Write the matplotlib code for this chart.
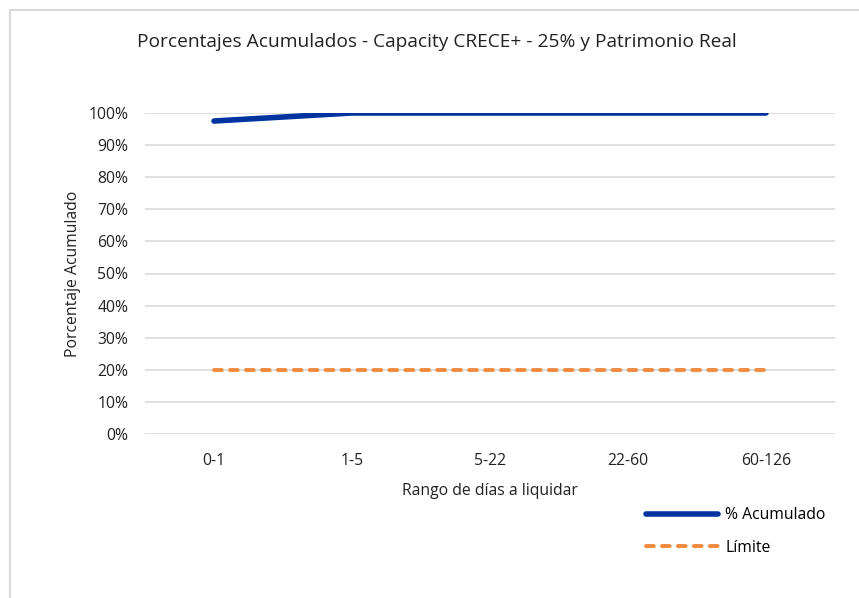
import matplotlib.pyplot as plt
from matplotlib.patches import Rectangle
from matplotlib.ticker import PercentFormatter, MultipleLocator

# Data
rangos = ["0-1", "1-5", "5-22", "22-60", "60-126"]
acumulado = [0.975, 1.0, 1.0, 1.0, 1.0]
limite = [0.20, 0.20, 0.20, 0.20, 0.20]

plt.rcParams['font.family'] = ['Open Sans', 'DejaVu Sans']

fig = plt.figure(figsize=(8.59, 5.98), dpi=100)
ax = fig.add_axes([145/859, 1 - 434/598, 690/859, (434 - 113)/598])

x = range(len(rangos))
l1, = ax.plot(x, acumulado, color='#0033A0', linewidth=4.0, solid_capstyle='round',
              label='% Acumulado')
l2, = ax.plot(x, limite, color='#F08A3E', linewidth=2.8, linestyle=(0, (2.0, 2.1)),
              dash_capstyle='round', label='Límite')

ax.set_xlim(-0.5, len(rangos) - 0.5)
ax.set_ylim(0, 1)
ax.yaxis.set_major_locator(MultipleLocator(0.1))
ax.yaxis.set_major_formatter(PercentFormatter(1.0, decimals=0))
ax.set_xticks(list(x))
ax.set_xticklabels(rangos)
ax.tick_params(length=0, labelsize=11.3, colors='#222222', pad=12)
ax.tick_params(axis='x', pad=14)
ax.grid(axis='y', color='#D9D9D9', linewidth=1.2)
ax.set_axisbelow(True)
for s in ax.spines.values():
    s.set_visible(False)

ax.set_xlabel("Rango de días a liquidar", fontsize=11.3, color='#222222', labelpad=10)
ax.set_ylabel("Porcentaje Acumulado", fontsize=11.3, color='#222222', labelpad=5)

fig.text(437/859, 1 - 42/598, "Porcentajes Acumulados - Capacity CRECE+ - 25% y Patrimonio Real",
         ha='center', va='center', fontsize=13.8, color='#222222')

fig.legend(handles=[l1, l2], loc='upper left', bbox_to_anchor=(632/859, 1 - 493/598),
           frameon=False, fontsize=11.3, handlelength=4.6, labelspacing=1.05, handletextpad=0.45)

fig.patches.append(Rectangle((10/859, -0.1), 1.2, 1 - 10/598 + 0.1, transform=fig.transFigure,
                             fill=False, edgecolor='#D9D9D9', linewidth=1.5))

fig.savefig("out.png", dpi=100)
